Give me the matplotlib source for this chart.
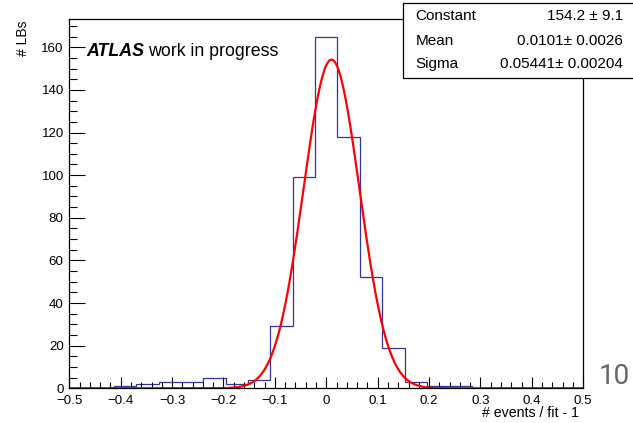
import numpy as np
import matplotlib
matplotlib.use("Agg")
import matplotlib.pyplot as plt
from matplotlib.patches import Rectangle

# ---- data ----
bin_low, bin_high, n_bins = -0.5, 0.5, 23
counts = [0, 0, 1, 2, 3, 3, 5, 2, 4, 29, 99, 165, 118, 52, 19, 3, 1, 1, 0, 0, 0, 0, 0]
fit_constant = 154.2
fit_mean = 0.0101
fit_sigma = 0.05441
stat_names = ["Constant", "Mean", "Sigma"]
stat_values = ["154.2 \u00b1 9.1", "0.0101\u00b1 0.0026", "0.05441\u00b1 0.00204"]
xtick_vals = [-0.5, -0.4, -0.3, -0.2, -0.1, 0.0, 0.1, 0.2, 0.3, 0.4, 0.5]
xtick_labels = ["\u22120.5", "\u22120.4", "\u22120.3", "\u22120.2", "\u22120.1", "0",
                "0.1", "0.2", "0.3", "0.4", "0.5"]
ytick_vals = [0, 20, 40, 60, 80, 100, 120, 140, 160]

plt.rcParams['font.family'] = ['Liberation Sans', 'DejaVu Sans']

W, H = 633, 423
fig = plt.figure(figsize=(W / 100, H / 100), dpi=100)
fig.patch.set_facecolor('white')

def fx(px):
    return px / W

def fy(py):
    return 1 - py / H

L, R, T, B = 69.3, 583.3, 19.0, 388.3
ax = fig.add_axes([fx(L), fy(B), fx(R) - fx(L), (B - T) / H])

edges = np.linspace(bin_low, bin_high, n_bins + 1)
ax.stairs(counts, edges, color='#333399', lw=0.9, baseline=0)

xs = np.linspace(bin_low, bin_high, 1500)
ys = fit_constant * np.exp(-0.5 * ((xs - fit_mean) / fit_sigma) ** 2)
ax.plot(xs, ys, color='#ff0000', lw=1.6)

ax.set_xlim(bin_low, bin_high)
ax.set_ylim(0, max(counts) * 1.05)

ax.set_xticks(xtick_vals, xtick_labels)
ax.set_xticks(np.arange(-0.5, 0.5001, 0.02), minor=True)
ax.set_yticks(ytick_vals, [str(v) for v in ytick_vals])
ax.set_yticks(np.arange(0, 171, 5), minor=True)

ax.tick_params(axis='both', which='both', direction='in', top=False, right=False,
               labelsize=9.6, width=0.8, color='black')
ax.tick_params(axis='x', which='major', length=8, pad=5)
ax.tick_params(axis='x', which='minor', length=4)
ax.tick_params(axis='y', which='major', length=11.3, pad=4)
ax.tick_params(axis='y', which='minor', length=5.8)
for sp in ax.spines.values():
    sp.set_linewidth(0.9)

# axis titles
fig.text(fx(579), fy(413), "# events / fit - 1", ha='right', va='center', fontsize=10.2)
fig.text(fx(23), fy(20), "# LBs", ha='center', va='top', rotation=90, fontsize=10)

# ATLAS label
t1 = fig.text(fx(86), fy(56), "ATLAS", fontsize=12.8, fontweight='bold', fontstyle='italic',
              ha='left', va='baseline')
fig.canvas.draw()
bb = t1.get_window_extent()
fig.text(fx(bb.x1 + 4), fy(56), "work in progress", fontsize=12.8, ha='left', va='baseline')

# stats box
fig.add_artist(Rectangle((fx(403.3), fy(78.3)), fx(700) - fx(403.3), (78.3 - 3.3) / H,
                         transform=fig.transFigure, facecolor='white', edgecolor='black',
                         lw=0.9, zorder=5, clip_on=False))
rows_y = [16, 41, 64]
for name, val, ry in zip(stat_names, stat_values, rows_y):
    fig.text(fx(415.5), fy(ry), name, ha='left', va='center', fontsize=11, zorder=6)
    fig.text(fx(623), fy(ry), val, ha='right', va='center', fontsize=11, zorder=6)

# slide page number
fig.text(fx(614), fy(376), "10", ha='center', va='center', fontsize=20, color='#666666',
         family=['Roboto', 'DejaVu Sans'])

fig.savefig("out.png", dpi=100, facecolor='white')
